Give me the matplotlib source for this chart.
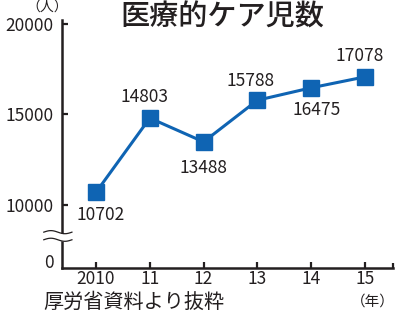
import matplotlib
matplotlib.use("Agg")
import matplotlib.pyplot as plt
import numpy as np

plt.rcParams['font.family'] = ['Noto Sans CJK JP', 'DejaVu Sans']

years = [2010, 2011, 2012, 2013, 2014, 2015]
year_labels = ['2010', '11', '12', '13', '14', '15']
counts = [10702, 14803, 13488, 15788, 16475, 17078]
# label offsets in pixels (dx, dy) from each marker
label_offsets = [(5, -23), (-5, 21), (0, -26), (-7, 19), (5, -22), (-5, 21)]
ytick_vals = [10000, 15000, 20000]
zero_pos = 6900  # where the "0" sits below the axis break

ink = '#231f20'
blue = '#0f64b3'

fig = plt.figure(figsize=(4, 3.19), dpi=100)
ax = fig.add_axes([62 / 400, 1 - 268 / 319, 331 / 400, 248 / 319])

ax.plot(years, counts, color=blue, lw=2.2, marker='s', markersize=11.5,
        markerfacecolor=blue, markeredgecolor=blue, zorder=4, clip_on=False)

for x, y, (dx, dy) in zip(years, counts, label_offsets):
    ax.annotate(f'{y}', (x, y), xytext=(dx, dy), textcoords='offset pixels',
                ha='center', va='center', fontsize=12.5, color=ink)

ax.set_xlim(2009.368, 2009.368 + 331 / 53.8)
ax.set_ylim(6520, 20220)

ax.set_xticks(years)
ax.set_xticklabels(year_labels)
ax.set_yticks([zero_pos] + ytick_vals)
ax.set_yticklabels(['0'] + [str(v) for v in ytick_vals])
ax.yaxis.get_major_ticks()[0].tick1line.set_visible(False)

ax.tick_params(direction='in', length=4, width=1.6, colors=ink,
               labelsize=12.5, labelcolor=ink)
ax.tick_params(axis='y', pad=6)
ax.tick_params(axis='x', pad=1.5)

for s in ['top', 'right']:
    ax.spines[s].set_visible(False)
for s in ['left', 'bottom']:
    ax.spines[s].set_linewidth(1.8)
    ax.spines[s].set_color(ink)

# end tick at right of x axis
ax.plot([1, 1], [0, 5 / 248], transform=ax.transAxes, color=ink,
        lw=1.6, clip_on=False, solid_capstyle='butt')

# axis break
trans = ax.get_yaxis_transform()
wx = np.linspace(-0.055, 0.03, 60)
wave = 85 * np.sin((wx - wx[0]) / (wx[-1] - wx[0]) * 2 * np.pi)
yb = 8290
ax.fill_between(wx, yb - 210 + wave, yb + 210 + wave, color='white',
                transform=trans, zorder=3, clip_on=False, lw=0)
ax.plot(wx, yb + 210 + wave, color=ink, lw=0.9, transform=trans,
        zorder=3.5, clip_on=False)
ax.plot(wx, yb - 210 + wave, color=ink, lw=0.9, transform=trans,
        zorder=3.5, clip_on=False)

fig.text(222 / 400, 1 - 17 / 319, '医療的ケア児数', ha='center', va='center',
         fontsize=21, fontweight='medium', color=ink)
fig.text(47 / 400, 1 - 8 / 319, '（人）', ha='center', va='center',
         fontsize=10, color=ink)
fig.text(43 / 400, 1 - 302 / 319, '厚労省資料より抜粋', ha='left', va='center',
         fontsize=14.5, color=ink)
fig.text(395 / 400, 1 - 302 / 319, '（年）', ha='right', va='center',
         fontsize=10.5, color=ink)

fig.savefig('out.png', dpi=100)
